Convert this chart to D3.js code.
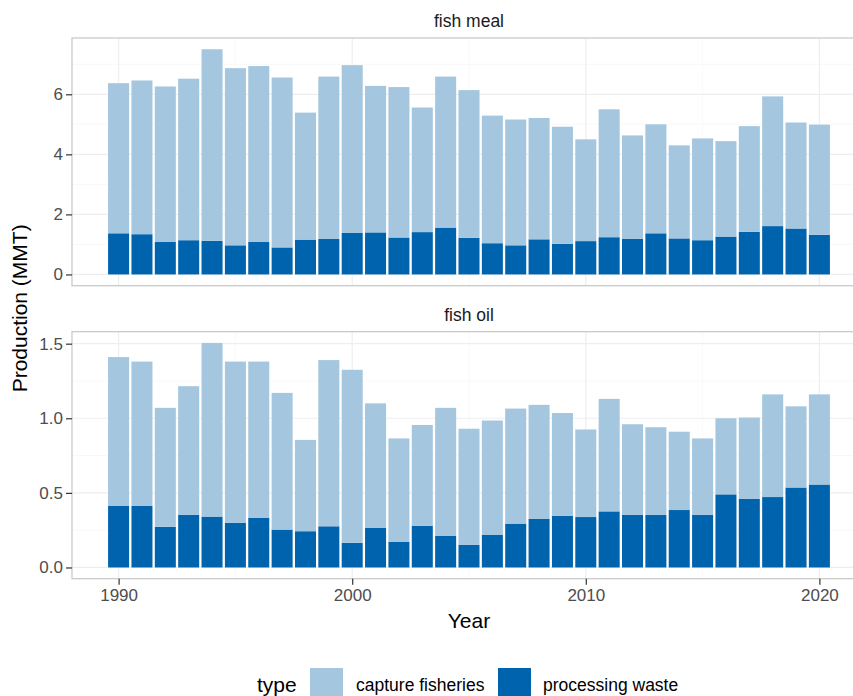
<!DOCTYPE html>
<html>
<head>
<meta charset="utf-8">
<script src="https://cdn.jsdelivr.net/npm/d3@7"></script>
<style>
  html, body { margin: 0; padding: 0; background: #fff; }
  svg { display: block; font-family: "Liberation Sans", Arial, Helvetica, sans-serif; }
</style>
</head>
<body>
<svg id="chart" width="853" height="696"></svg>
<script>
// ---- data ----
const years = d3.range(1990, 2021);
const types = ["capture fisheries", "processing waste"];
const facets = ["fish meal", "fish oil"];
const mealWaste = [1.37,1.34,1.08,1.14,1.12,0.97,1.08,0.90,1.16,1.18,1.38,1.40,1.23,1.41,1.56,1.22,1.04,0.97,1.17,1.02,1.11,1.24,1.19,1.37,1.20,1.14,1.26,1.42,1.61,1.53,1.32];
const mealCapture = [5.00,5.12,5.18,5.38,6.38,5.90,5.86,5.66,4.23,5.41,5.59,4.88,5.01,4.15,5.03,4.92,4.25,4.19,4.04,3.90,3.39,4.26,3.44,3.63,3.10,3.39,3.18,3.52,4.32,3.53,3.67];
const oilWaste = [0.414,0.412,0.272,0.352,0.341,0.300,0.334,0.254,0.243,0.276,0.165,0.267,0.171,0.280,0.211,0.151,0.220,0.294,0.327,0.347,0.338,0.376,0.352,0.352,0.385,0.352,0.490,0.461,0.472,0.536,0.556];
const oilCapture = [0.996,0.968,0.798,0.863,1.164,1.080,1.046,0.916,0.612,1.114,1.160,0.833,0.694,0.675,0.859,0.779,0.765,0.771,0.763,0.688,0.587,0.754,0.608,0.588,0.525,0.513,0.510,0.544,0.688,0.544,0.604];
const xTicks = [1990, 2000, 2010, 2020];
const mealTicks = [0, 2, 4, 6];
const oilTicks = [0, 0.5, 1.0, 1.5];

const colors = {"capture fisheries": "#a4c6df", "processing waste": "#0063ad"};

// ---- layout ----
const svg = d3.select("#chart");
const left = 72, right = 866;
const panels = [
  {name: facets[0], top: 38, bottom: 285.7, waste: mealWaste, capture: mealCapture, ticks: mealTicks, fmt: d3.format("d"), minor: [1,3,5,7]},
  {name: facets[1], top: 331.7, bottom: 578.7, waste: oilWaste, capture: oilCapture, ticks: oilTicks, fmt: d3.format(".1f"), minor: [0.25,0.75,1.25]}
];

const barW = 0.9;
const xmin = years[0] - barW/2, xmax = years[years.length-1] + barW/2;
const xpad = (xmax - xmin) * 0.05;
const x = d3.scaleLinear().domain([xmin - xpad, xmax + xpad]).range([left, right]);
const xMinor = [1995, 2005, 2015];

panels.forEach((p, pi) => {
  const rows = years.map((yr, i) => ({year: yr, "processing waste": p.waste[i], "capture fisheries": p.capture[i]}));
  const stack = d3.stack().keys(["processing waste", "capture fisheries"])(rows);
  const ymax = d3.max(rows, r => r["processing waste"] + r["capture fisheries"]);
  const ypad = ymax * 0.05;
  const y = d3.scaleLinear().domain([-ypad, ymax + ypad]).range([p.bottom, p.top]);

  const g = svg.append("g");
  // panel background
  g.append("rect").attr("x", left).attr("y", p.top).attr("width", right-left).attr("height", p.bottom-p.top).attr("fill", "#fff");
  // minor grid
  p.minor.forEach(v => g.append("line").attr("x1", left).attr("x2", right).attr("y1", y(v)).attr("y2", y(v)).attr("stroke", "#f6f6f8").attr("stroke-width", 0.8));
  xMinor.forEach(v => g.append("line").attr("x1", x(v)).attr("x2", x(v)).attr("y1", p.top).attr("y2", p.bottom).attr("stroke", "#f6f6f8").attr("stroke-width", 0.8));
  // major grid
  p.ticks.forEach(v => g.append("line").attr("x1", left).attr("x2", right).attr("y1", y(v)).attr("y2", y(v)).attr("stroke", "#eeeef2").attr("stroke-width", 1.2));
  xTicks.forEach(v => g.append("line").attr("x1", x(v)).attr("x2", x(v)).attr("y1", p.top).attr("y2", p.bottom).attr("stroke", "#eeeef2").attr("stroke-width", 1.2));

  // bars
  stack.forEach(layer => {
    g.append("g").attr("fill", colors[layer.key]).selectAll("rect").data(layer).join("rect")
      .attr("x", d => x(d.data.year - barW/2))
      .attr("width", d => x(d.data.year + barW/2) - x(d.data.year - barW/2))
      .attr("y", d => y(d[1]))
      .attr("height", d => y(d[0]) - y(d[1]));
  });

  // border
  g.append("rect").attr("x", left).attr("y", p.top).attr("width", right-left).attr("height", p.bottom-p.top)
    .attr("fill", "none").attr("stroke", "#c6c6c6").attr("stroke-width", 1.2);

  // y axis
  const ya = svg.append("g").attr("transform", `translate(${left},0)`)
    .call(d3.axisLeft(y).tickValues(p.ticks).tickFormat(p.fmt).tickSize(6).tickPadding(3));
  ya.select(".domain").remove();
  ya.selectAll(".tick line").attr("stroke", "#333").attr("stroke-width", 1.2);
  ya.selectAll(".tick text").attr("fill", "#4d4d4d").style("font-size", "17px").style("font-family", "'Liberation Sans', Arial, sans-serif");

  // strip
  svg.append("text").attr("x", (left + right)/2).attr("y", p.top - 11).attr("text-anchor", "middle")
    .attr("fill", "#1a1a1a").style("font-size", "17.5px").text(p.name);

  if (pi === 1) {
    const xa = svg.append("g").attr("transform", `translate(0,${p.bottom})`)
      .call(d3.axisBottom(x).tickValues(xTicks).tickFormat(d3.format("d")).tickSize(6).tickPadding(4));
    xa.select(".domain").remove();
    xa.selectAll(".tick line").attr("stroke", "#333").attr("stroke-width", 1.2);
    xa.selectAll(".tick text").attr("fill", "#4d4d4d").style("font-size", "17px").style("font-family", "'Liberation Sans', Arial, sans-serif");
  }
});

// axis titles
svg.append("text").attr("x", (left + right)/2).attr("y", 628).attr("text-anchor", "middle")
  .attr("fill", "#000").style("font-size", "21px").text("Year");
svg.append("text").attr("transform", `translate(27,${(38 + 578.7)/2}) rotate(-90)`).attr("text-anchor", "middle")
  .attr("fill", "#000").style("font-size", "21px").text("Production (MMT)");

// legend
const lg = svg.append("g");
lg.append("text").attr("x", 257).attr("y", 692).attr("fill", "#000").style("font-size", "21px").text("type");
const legendItems = [
  {key: types[0], bx: 310, tx: 356},
  {key: types[1], bx: 498, tx: 543}
];
legendItems.forEach(it => {
  lg.append("rect").attr("x", it.bx).attr("y", 668).attr("width", 33).attr("height", 33).attr("fill", colors[it.key]);
  lg.append("text").attr("x", it.tx).attr("y", 691).attr("fill", "#000").style("font-size", "17.5px").text(it.key);
});
</script>
</body>
</html>
